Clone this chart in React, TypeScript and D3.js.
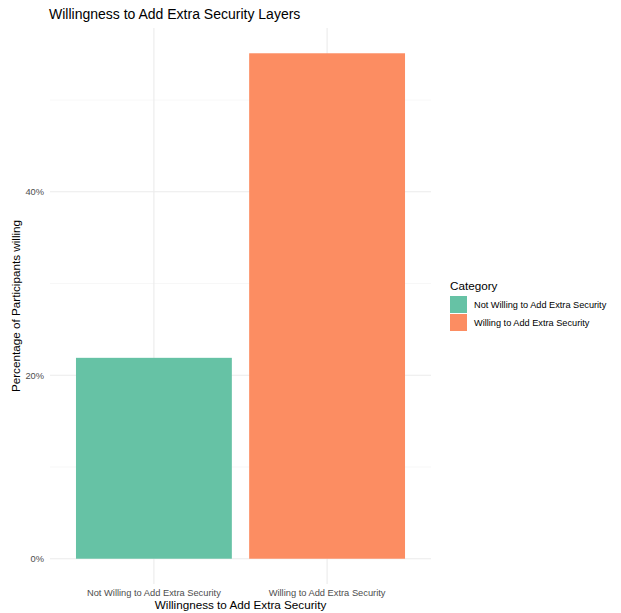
import React from "react";
import * as d3 from "d3";

const categories = ["Not Willing to Add Extra Security", "Willing to Add Extra Security"];
const values = [21.9, 55.1];
const colors = ["#66c2a5", "#fc8d62"];
const yTicks = [0, 20, 40];
const yMinor = [10, 30, 50];

const W = 621, H = 613;
const panel = { left: 50, right: 431, top: 28, bottom: 584 };
const FONT = "Liberation Sans, Arial, Helvetica, sans-serif";

export default function App() {
  const maxV = d3.max(values) as number;
  const y = d3.scaleLinear().domain([-maxV * 0.05, maxV * 1.05]).range([panel.bottom, panel.top]);
  const step = (panel.right - panel.left) / (categories.length + 0.2);
  const x = d3.scaleOrdinal<string, number>().domain(categories).range(categories.map((_, i) => panel.left + step * (0.6 + i)));
  const bw = step * 0.9;
  return (
    <svg width={W} height={H} style={{ position: "absolute", left: 0, top: 0, background: "#fff" }} fontFamily={FONT}>
      <rect x={0} y={0} width={W} height={H} fill="#fff" />
      {yMinor.map((t) => (
        <line key={"mn" + t} x1={panel.left} x2={panel.right} y1={y(t)} y2={y(t)} stroke="#f2f2f2" strokeWidth={0.6} />
      ))}
      {yTicks.map((t) => (
        <line key={"mj" + t} x1={panel.left} x2={panel.right} y1={y(t)} y2={y(t)} stroke="#ebebeb" strokeWidth={1.1} />
      ))}
      {categories.map((c, i) => (
        <line key={"vx" + i} x1={x(c)} x2={x(c)} y1={panel.top} y2={panel.bottom} stroke="#ebebeb" strokeWidth={1.1} />
      ))}
      {categories.map((c, i) => (
        <rect key={"b" + i} x={x(c) - bw / 2} width={bw} y={y(values[i])} height={y(0) - y(values[i])} fill={colors[i]} />
      ))}
      {yTicks.map((t) => (
        <text key={"yl" + t} x={44} y={y(t)} dy="0.35em" textAnchor="end" fontSize={9.3} fill="#4d4d4d">{t + "%"}</text>
      ))}
      {categories.map((c, i) => (
        <text key={"xl" + i} x={x(c)} y={596} textAnchor="middle" fontSize={9.3} fill="#4d4d4d">{c}</text>
      ))}
      <text x={(panel.left + panel.right) / 2} y={609} textAnchor="middle" fontSize={11.7} fill="#000">Willingness to Add Extra Security</text>
      <text transform={`translate(20,${(panel.top + panel.bottom) / 2}) rotate(-90)`} textAnchor="middle" fontSize={11.7} fill="#000">Percentage of Participants willing</text>
      <text x={49} y={19} fontSize={14} fill="#000">Willingness to Add Extra Security Layers</text>
      <text x={450} y={290} fontSize={11.7} fill="#000">Category</text>
      {categories.map((c, i) => (
        <g key={"lg" + i}>
          <rect x={450} y={296 + i * 18} width={17} height={17} fill={colors[i]} />
          <text x={474} y={296 + i * 18 + 8.5} dy="0.35em" fontSize={9.2} fill="#000">{c}</text>
        </g>
      ))}
    </svg>
  );
}
